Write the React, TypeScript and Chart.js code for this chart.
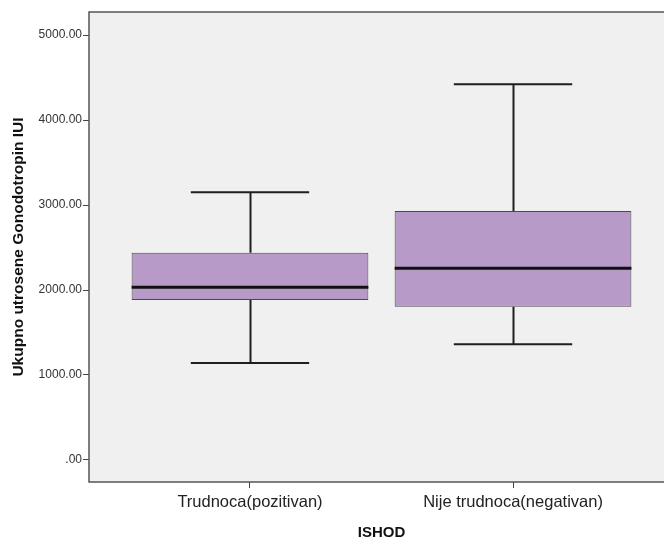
import React, { useEffect, useRef } from 'react';
import { Chart, registerables } from 'chart.js';

Chart.register(...registerables);

// ---- data ----
const categories = ['Trudnoca(pozitivan)', 'Nije trudnoca(negativan)'];
const positions = [1, 2];
const whiskerLow = [1141, 1361];
const q1 = [1882, 1804];
const median = [2032, 2255];
const q3 = [2439, 2929];
const whiskerHigh = [3149, 4420];
const yTicks = [0, 1000, 2000, 3000, 4000, 5000];

const yTitle = 'Ukupno utrosene Gonodotropin IUI';
const xTitle = 'ISHOD';

const FONT = '"Liberation Sans", Arial, sans-serif';

const boxPlugin = {
  id: 'boxplotExtras',
  beforeDatasetsDraw(chart: any) {
    const { ctx, chartArea } = chart;
    ctx.save();
    ctx.fillStyle = '#f0f0f0';
    ctx.fillRect(chartArea.left, chartArea.top, chartArea.right - chartArea.left, chartArea.bottom - chartArea.top);
    ctx.restore();
  },
  afterDatasetsDraw(chart: any) {
    const { ctx } = chart;
    const xs = chart.scales.x;
    const ys = chart.scales.y;
    ctx.save();
    positions.forEach((p, i) => {
      const cx = Math.round(xs.getPixelForValue(p)) + 0.5;
      const capL = xs.getPixelForValue(p - 0.225);
      const capR = xs.getPixelForValue(p + 0.225);
      const boxL = xs.getPixelForValue(p - 0.45);
      const boxR = xs.getPixelForValue(p + 0.45);
      const yHi = ys.getPixelForValue(whiskerHigh[i]);
      const yLo = ys.getPixelForValue(whiskerLow[i]);
      const yQ1 = ys.getPixelForValue(q1[i]);
      const yQ3 = ys.getPixelForValue(q3[i]);
      const yMed = ys.getPixelForValue(median[i]);
      ctx.strokeStyle = '#1e1e1e';
      ctx.lineWidth = 2;
      ctx.beginPath();
      ctx.moveTo(cx, yQ3);
      ctx.lineTo(cx, yHi);
      ctx.moveTo(cx, yQ1);
      ctx.lineTo(cx, yLo);
      ctx.moveTo(capL, yHi);
      ctx.lineTo(capR, yHi);
      ctx.moveTo(capL, yLo);
      ctx.lineTo(capR, yLo);
      ctx.stroke();
      ctx.lineWidth = 3;
      ctx.strokeStyle = '#111';
      ctx.beginPath();
      ctx.moveTo(boxL, yMed);
      ctx.lineTo(boxR, yMed);
      ctx.stroke();
    });
    ctx.restore();
  },
  afterDraw(chart: any) {
    const { ctx, chartArea } = chart;
    ctx.save();
    ctx.strokeStyle = '#555';
    ctx.lineWidth = 1.5;
    ctx.strokeRect(chartArea.left, chartArea.top, chartArea.right - chartArea.left, chartArea.bottom - chartArea.top);
    ctx.restore();
  },
};

export default function App() {
  const ref = useRef<HTMLCanvasElement | null>(null);

  useEffect(() => {
    if (!ref.current) return;
    const chart = new Chart(ref.current, {
      type: 'bar',
      data: {
        datasets: [
          {
            data: positions.map((x, i) => ({ x, y: [q1[i], q3[i]] })) as any,
            backgroundColor: '#b89ac8',
            borderColor: '#4a4a4a',
            borderWidth: 1,
            borderSkipped: false,
            barPercentage: 0.9,
            categoryPercentage: 1,
          },
        ],
      },
      options: {
        animation: false,
        responsive: false,
        devicePixelRatio: 1,
        layout: { padding: { top: 12, right: 26, left: 0, bottom: 0 } },
        plugins: {
          legend: { display: false },
          tooltip: { enabled: false },
        },
        scales: {
          x: {
            type: 'linear',
            min: 0.388,
            max: 2.612,
            offset: false,
            grid: { display: true, drawOnChartArea: false, drawTicks: true, tickLength: 6, tickColor: '#444', offset: false },
            border: { display: false },
            afterBuildTicks: (s: any) => {
              s.ticks = positions.map((v) => ({ value: v }));
            },
            afterFit: (s: any) => {
              s.height = 58;
            },
            ticks: {
              autoSkip: false,
              maxRotation: 0,
              padding: 5,
              color: '#222',
              font: { family: FONT, size: 16.5 },
              callback: (v: any) => categories[positions.indexOf(Number(v))] ?? '',
            },
            title: {
              display: true,
              text: xTitle,
              color: '#111',
              padding: { top: 0, bottom: -2 },
              font: { family: FONT, size: 15, weight: 'bold' },
            },
          },
          y: {
            type: 'linear',
            min: -259,
            max: 5271,
            grid: { display: true, drawOnChartArea: false, drawTicks: true, tickLength: 6, tickColor: '#444' },
            border: { display: false },
            afterBuildTicks: (s: any) => {
              s.ticks = yTicks.map((v) => ({ value: v }));
            },
            afterFit: (s: any) => {
              s.width = 89;
            },
            ticks: {
              padding: 1,
              color: '#333',
              font: { family: FONT, size: 12 },
              callback: (v: any) => (Number(v) === 0 ? '.00' : Number(v).toFixed(2)),
            },
            title: {
              display: true,
              text: yTitle,
              color: '#111',
              padding: { top: 9, bottom: 0 },
              font: { family: FONT, size: 15.5, weight: 'bold' },
            },
          },
        },
      },
      plugins: [boxPlugin],
    } as any);
    return () => chart.destroy();
  }, []);

  return (
    <div style={{ position: 'fixed', left: 0, top: 0, width: 664, height: 540, overflow: 'hidden', background: '#fff' }}>
      <canvas ref={ref} width={700} height={540} style={{ display: 'block', width: 700, height: 540 }} />
    </div>
  );
}
